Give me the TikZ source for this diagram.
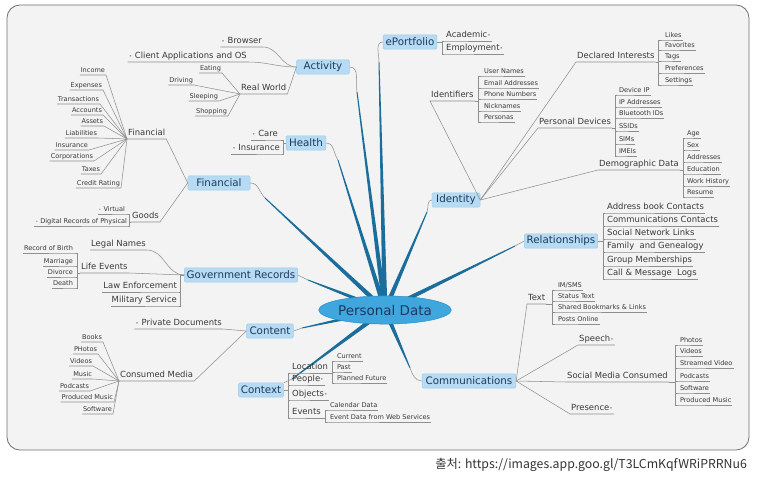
\documentclass[tikz,border=0pt]{standalone}
\usepackage{fontspec}
\setmainfont{DejaVu Sans}
\newfontfamily\cjkfont{Noto Sans CJK KR}
\usetikzlibrary{calc,shapes.geometric,backgrounds}

\definecolor{bggray}{HTML}{F3F3F3}
\definecolor{framegray}{HTML}{707070}
\definecolor{topicfill}{HTML}{B7DBF3}
\definecolor{topicedge}{HTML}{9DCBEA}
\definecolor{topictext}{HTML}{1C3A5E}
\definecolor{centerfill}{HTML}{3FA6DE}
\definecolor{centeredge}{HTML}{2C8CC4}
\definecolor{spokeblue}{HTML}{1B6D9C}
\definecolor{linkgray}{HTML}{8E8E8E}
\definecolor{leaftext}{HTML}{383838}

\newcommand\notedot{{\color{linkgray}\scalebox{0.7}{•}}}
% tapered branch from the centre out to a tip
\newcommand\spoke[2]{\fill[spokeblue] ($(#1)!2.1pt!90:(#2)$) -- ($(#2)!0.4pt!-90:(#1)$) -- ($(#2)!0.4pt!90:(#1)$) -- ($(#1)!2.1pt!-90:(#2)$) -- cycle;}

\begin{document}
\begin{tikzpicture}[
    x=0.03cm, y=0.03cm,
    topic/.style={
        rectangle, fill=topicfill, draw=topicedge, rounded corners=1pt,
        minimum height=12pt, inner xsep=2pt, inner ysep=1pt,
        font=\fontsize{8.8}{10}\selectfont, text=topictext
    },
    sub/.style={inner sep=0.8pt, text height=5.4pt, text depth=1.6pt,
        font=\fontsize{7.2}{8}\selectfont, text=leaftext},
    leaf/.style={inner sep=0.7pt, text height=4.2pt, text depth=1.2pt,
        font=\fontsize{5.6}{6.5}\selectfont, text=leaftext},
    link/.style={draw=linkgray, line width=0.45pt}
]
\useasboundingbox (0,0) rectangle (757,-478);

% Frame
\begin{scope}[on background layer]
\draw[framegray, fill=bggray, line width=0.7pt, rounded corners=11pt] (7,-5) rectangle (749,-450);
\end{scope}

% Centre
\node[ellipse, fill=centerfill, draw=centeredge, minimum width=98pt, minimum height=24pt,
      inner sep=0pt, font=\fontsize{11.5}{13}\selectfont, text=topictext] (pd) at (385,-310) {Personal Data};

% Main topics
\node[topic, minimum width=45pt] (activity) at (323,-67) {Activity};
\node[topic, minimum width=46pt] (eportfolio) at (410,-42) {ePortfolio};
\node[topic, minimum width=34pt] (health) at (306,-143) {Health};
\node[topic, minimum width=53pt] (financial) at (219,-183) {Financial};
\node[topic, minimum width=41pt] (identity) at (456,-200) {Identity};
\node[topic, minimum width=61pt] (relationships) at (561,-241) {Relationships};
\node[topic, minimum width=96pt] (gov) at (241,-275) {Government Records};
\node[topic, minimum width=40pt] (content) at (270,-331) {Content};
\node[topic, minimum width=38pt] (context) at (261,-390) {Context};
\node[topic, minimum width=80pt] (comm) at (469,-381) {Communications};

% Branch tips
\coordinate (tip-act) at (357,-92);
\coordinate (tip-ep) at (379,-62);
\coordinate (tip-hea) at (338,-160);
\coordinate (tip-fin) at (265,-198);
\coordinate (tip-gov) at (308,-280);
\coordinate (tip-con) at (302,-328);
\coordinate (tip-ctx) at (292,-379);
\coordinate (tip-id) at (427,-212);
\coordinate (tip-rel) at (515,-246);
\coordinate (tip-com) at (410,-368);

\begin{scope}[on background layer]
\spoke{pd.center}{tip-act}
\spoke{pd.center}{tip-ep}
\spoke{pd.center}{tip-hea}
\spoke{pd.center}{tip-fin}
\spoke{pd.center}{tip-gov}
\spoke{pd.center}{tip-con}
\spoke{pd.center}{tip-ctx}
\spoke{pd.center}{tip-id}
\spoke{pd.center}{tip-rel}
\spoke{pd.center}{tip-com}
\end{scope}

\draw[link] (tip-act) to[out=100,in=0] (activity.east);
\draw[link] (tip-ep) to[out=90,in=180] (eportfolio.west);
\draw[link] (tip-hea) to[out=125,in=0] (health.east);
\draw[link] (tip-fin) to[out=135,in=0] (financial.east);
\draw[link] (tip-gov) -- (gov.east);
\draw[link] (tip-con) -- (content.east);
\draw[link] (tip-ctx) -- (context.north east);
\draw[link] (tip-id) to[out=70,in=180] (identity.west);
\draw[link] (tip-rel) -- (relationships.west);
\draw[link] (tip-com) to[out=-70,in=180] (comm.west);

% Activity
\node[sub, anchor=south east] (browser) at (263,-47) {\notedot\ Browser};
\node[sub, anchor=south east] (apps) at (248,-62) {\notedot\ Client Applications and OS};
\node[sub, anchor=south west] (realworld) at (240,-94) {Real World};
\node[leaf, anchor=south east] (eating) at (222,-73) {Eating};
\node[leaf, anchor=south east] (driving) at (194,-85) {Driving};
\node[leaf, anchor=south east] (sleeping) at (219,-101) {Sleeping};
\node[leaf, anchor=south east] (shopping) at (228,-116) {Shopping};
\draw[link] (activity.west) to[out=180,in=0] (browser.south east) -- (browser.south west);
\draw[link] (activity.west) to[out=180,in=0] (apps.south east) -- (apps.south west);
\draw[link] (activity.west) -- (realworld.south east) -- (realworld.south west);
\foreach \n in {eating,driving,sleeping,shopping}
    \draw[link] (realworld.south west) -- (\n.south east) -- (\n.south west);

% ePortfolio
\node[sub, anchor=south west] (academic) at (445,-41) {Academic\notedot};
\node[sub, anchor=south west] (employment) at (445,-54) {Employment\notedot};
\foreach \n in {academic,employment}
    \draw[link] (eportfolio.east) -- ++(5,0) |- (\n.south west) -- (\n.south east);

% Health
\node[sub, anchor=south east] (care) at (279,-140) {\notedot\ Care};
\node[sub, anchor=south east] (insurance) at (281,-154) {\notedot\ Insurance};
\foreach \n in {care,insurance}
    \draw[link] (health.west) -- ++(-3,0) |- (\n.south east) -- (\n.south west);

% Financial
\node[sub, anchor=south west] (fin) at (127,-139) {Financial};
\node[leaf, anchor=south east] (income) at (106,-75) {Income};
\node[leaf, anchor=south east] (expenses) at (103,-90) {Expenses};
\node[leaf, anchor=south east] (transactions) at (100,-104) {Transactions};
\node[leaf, anchor=south east] (accounts) at (103,-115) {Accounts};
\node[leaf, anchor=south east] (assets) at (104,-126) {Assets};
\node[leaf, anchor=south east] (liabilities) at (98,-138) {Liabilities};
\node[leaf, anchor=south east] (fininsurance) at (89,-150) {Insurance};
\node[leaf, anchor=south east] (corporations) at (94,-161) {Corporations};
\node[leaf, anchor=south east] (taxes) at (101,-174) {Taxes};
\node[leaf, anchor=south east] (credit) at (121,-188) {Credit Rating};
\node[sub, anchor=south west] (goods) at (131,-222) {Goods};
\node[leaf, anchor=south east] (virtual) at (126,-214) {\notedot\ Virtual};
\node[leaf, anchor=south east] (digital) at (128,-226) {\notedot\ Digital Records of Physical};
\draw[link] (financial.west) -- (fin.south east) -- (fin.south west);
\draw[link] (financial.west) -- (goods.south east) -- (goods.south west);
\foreach \n in {income,expenses,transactions,accounts,assets,liabilities,fininsurance,corporations,taxes,credit}
    \draw[link] (fin.south west) -- (\n.south east) -- (\n.south west);
\foreach \n in {virtual,digital}
    \draw[link] (goods.south west) -- ++(-2,0) |- (\n.south east) -- (\n.south west);

% Government Records
\node[sub, anchor=south west] (legal) at (90,-250) {Legal Names};
\node[sub, anchor=south west] (lifeevents) at (80,-273) {Life Events};
\node[leaf, anchor=south east] (birth) at (74,-253) {Record of Birth};
\node[leaf, anchor=south east] (marriage) at (74,-266) {Marriage};
\node[leaf, anchor=south east] (divorce) at (74,-277) {Divorce};
\node[leaf, anchor=south east] (death) at (74,-288) {Death};
\node[sub, anchor=south east] (lawenf) at (178,-292) {Law Enforcement};
\node[sub, anchor=south east] (military) at (178,-306) {Military Service};
\draw[link] (gov.west) to[out=180,in=0] (legal.south east) -- (legal.south west);
\draw[link] (gov.west) -- (lifeevents.south east) -- (lifeevents.south west);
\foreach \n in {birth,marriage,divorce,death}
    \draw[link] (lifeevents.south west) -- ++(-3,0) |- (\n.south east) -- (\n.south west);
\foreach \n in {lawenf,military}
    \draw[link] (gov.west) -- ++(-4,0) |- (\n.south east) -- (\n.south west);

% Content
\node[sub, anchor=south east] (privdocs) at (223,-329) {\notedot\ Private Documents};
\node[sub, anchor=south west] (consumed) at (119,-381) {Consumed Media};
\node[leaf, anchor=south east] (books) at (103,-342) {Books};
\node[leaf, anchor=south east] (cphotos) at (98,-354) {PHotos};
\node[leaf, anchor=south east] (cvideos) at (93,-366) {Videos};
\node[leaf, anchor=south east] (cmusic) at (93,-379) {Music};
\node[leaf, anchor=south east] (cpodcasts) at (90,-391) {Podcasts};
\node[leaf, anchor=south east] (cproduced) at (114,-402) {Produced Music};
\node[leaf, anchor=south east] (csoftware) at (113,-414) {Software};
\draw[link] (content.west) -- (privdocs.south east) -- (privdocs.south west);
\draw[link] (content.west) -- (consumed.south east) -- (consumed.south west);
\foreach \n in {books,cphotos,cvideos,cmusic,cpodcasts,cproduced,csoftware}
    \draw[link] (consumed.south west) -- (\n.south east) -- (\n.south west);

% Context
\node[sub, anchor=south west] (location) at (291,-373) {Location};
\node[sub, anchor=south west] (people) at (291,-385) {People\notedot};
\node[sub, anchor=south west] (objects) at (291,-400) {Objects\notedot};
\node[sub, anchor=south west] (events) at (291,-418) {Events};
\node[leaf, anchor=south west] (current) at (336,-361) {Current};
\node[leaf, anchor=south west] (past) at (336,-372) {Past};
\node[leaf, anchor=south west] (planned) at (336,-383) {Planned Future};
\node[leaf, anchor=south west] (calendar) at (329,-410) {Calendar Data};
\node[leaf, anchor=south west] (webevents) at (329,-422) {Event Data from Web Services};
\foreach \n in {location,people,objects,events}
    \draw[link] (context.east) -- ++(4,0) |- (\n.south west) -- (\n.south east);
\foreach \n in {current,past,planned}
    \draw[link] (location.south east) -- ++(3,0) |- (\n.south west) -- (\n.south east);
\foreach \n in {calendar,webevents}
    \draw[link] (events.south east) -- ++(3,0) |- (\n.south west) -- (\n.south east);

% Identity
\node[sub, anchor=south west] (identifiers) at (430,-101) {Identifiers};
\node[leaf, anchor=south west] (usernames) at (483,-76) {User Names};
\node[leaf, anchor=south west] (emails) at (483,-88) {Email Addresses};
\node[leaf, anchor=south west] (phones) at (483,-99) {Phone Numbers};
\node[leaf, anchor=south west] (nicknames) at (483,-111) {Nicknames};
\node[leaf, anchor=south west] (personas) at (483,-122) {Personas};
\node[sub, anchor=south west] (declared) at (576,-62) {Declared Interests};
\node[leaf, anchor=south west] (likes) at (664,-40) {Likes};
\node[leaf, anchor=south west] (favorites) at (664,-50) {Favorites};
\node[leaf, anchor=south west] (tags) at (664,-61) {Tags};
\node[leaf, anchor=south west] (preferences) at (664,-73) {Preferences};
\node[leaf, anchor=south west] (settings) at (664,-85) {Settings};
\node[sub, anchor=south west] (devices) at (538,-128) {Personal Devices};
\node[leaf, anchor=south west] (deviceip) at (618,-95) {Device IP};
\node[leaf, anchor=south west] (ipaddr) at (618,-107) {IP Addresses};
\node[leaf, anchor=south west] (bluetooth) at (618,-118) {Bluetooth IDs};
\node[leaf, anchor=south west] (ssids) at (618,-131) {SSIDs};
\node[leaf, anchor=south west] (sims) at (618,-144) {SIMs};
\node[leaf, anchor=south west] (imeis) at (618,-156) {IMEIs};
\node[sub, anchor=south west] (demographic) at (598,-170) {Demographic Data};
\node[leaf, anchor=south west] (age) at (686,-138) {Age};
\node[leaf, anchor=south west] (sex) at (686,-150) {Sex};
\node[leaf, anchor=south west] (addresses) at (686,-162) {Addresses};
\node[leaf, anchor=south west] (education) at (686,-174) {Education};
\node[leaf, anchor=south west] (workhistory) at (686,-186) {Work History};
\node[leaf, anchor=south west] (resume) at (686,-197) {Resume};
\foreach \n in {identifiers,declared,devices,demographic}
    \draw[link] (identity.east) -- (\n.south west) -- (\n.south east);
\foreach \n in {usernames,emails,phones,nicknames,personas}
    \draw[link] (identifiers.south east) -- ++(4,0) |- (\n.south west) -- (\n.south east);
\foreach \n in {likes,favorites,tags,preferences,settings}
    \draw[link] (declared.south east) -- ++(3,0) |- (\n.south west) -- (\n.south east);
\foreach \n in {deviceip,ipaddr,bluetooth,ssids,sims,imeis}
    \draw[link] (devices.south east) -- ++(3,0) |- (\n.south west) -- (\n.south east);
\foreach \n in {age,sex,addresses,education,workhistory,resume}
    \draw[link] (demographic.south east) -- ++(3,0) |- (\n.south west) -- (\n.south east);

% Relationships
\node[sub, anchor=south west] (addrbook) at (606,-213) {Address book Contacts};
\node[sub, anchor=south west] (commcontacts) at (606,-226) {Communications Contacts};
\node[sub, anchor=south west] (socialnet) at (606,-239) {Social Network Links};
\node[sub, anchor=south west] (family) at (606,-252) {Family\ \ and Genealogy};
\node[sub, anchor=south west] (groups) at (606,-266) {Group Memberships};
\node[sub, anchor=south west] (calllogs) at (606,-279) {Call \& Message\ \ Logs};
\foreach \n in {addrbook,commcontacts,socialnet,family,groups,calllogs}
    \draw[link] (relationships.east) -- ++(5,0) |- (\n.south west) -- (\n.south east);

% Communications
\node[sub, anchor=south west] (text) at (527,-304) {Text};
\node[leaf, anchor=south west] (imsms) at (557,-290) {IM/SMS};
\node[leaf, anchor=south west] (statustext) at (557,-301) {Status Text};
\node[leaf, anchor=south west] (bookmarks) at (557,-312) {Shared Bookmarks \& Links};
\node[leaf, anchor=south west] (posts) at (557,-324) {Posts Online};
\node[sub, anchor=south west] (speech) at (578,-345) {Speech\notedot};
\node[sub, anchor=south west] (socialmedia) at (566,-382) {Social Media Consumed};
\node[sub, anchor=south west] (presence) at (570,-414) {Presence\notedot};
\node[leaf, anchor=south west] (sphotos) at (679,-345) {Photos};
\node[leaf, anchor=south west] (svideos) at (679,-356) {Videos};
\node[leaf, anchor=south west] (streamed) at (679,-368) {Streamed Video};
\node[leaf, anchor=south west] (spodcasts) at (679,-381) {Podcasts};
\node[leaf, anchor=south west] (ssoftware) at (679,-393) {Software};
\node[leaf, anchor=south west] (sproduced) at (679,-405) {Produced Music};
\foreach \n in {text,speech,socialmedia,presence}
    \draw[link] (comm.east) -- (\n.south west) -- (\n.south east);
\foreach \n in {imsms,statustext,bookmarks,posts}
    \draw[link] (text.south east) -- ++(6,0) |- (\n.south west) -- (\n.south east);
\foreach \n in {sphotos,svideos,streamed,spodcasts,ssoftware,sproduced}
    \draw[link] (socialmedia.south east) -- ++(6,0) |- (\n.south west) -- (\n.south east);

% Source
\node[anchor=east, font=\cjkfont\fontsize{10.5}{12}\selectfont, text=black!80] (source) at (751,-465)
    {출처: https://images.app.goo.gl/T3LCmKqfWRiPRRNu6};

\end{tikzpicture}
\end{document}
